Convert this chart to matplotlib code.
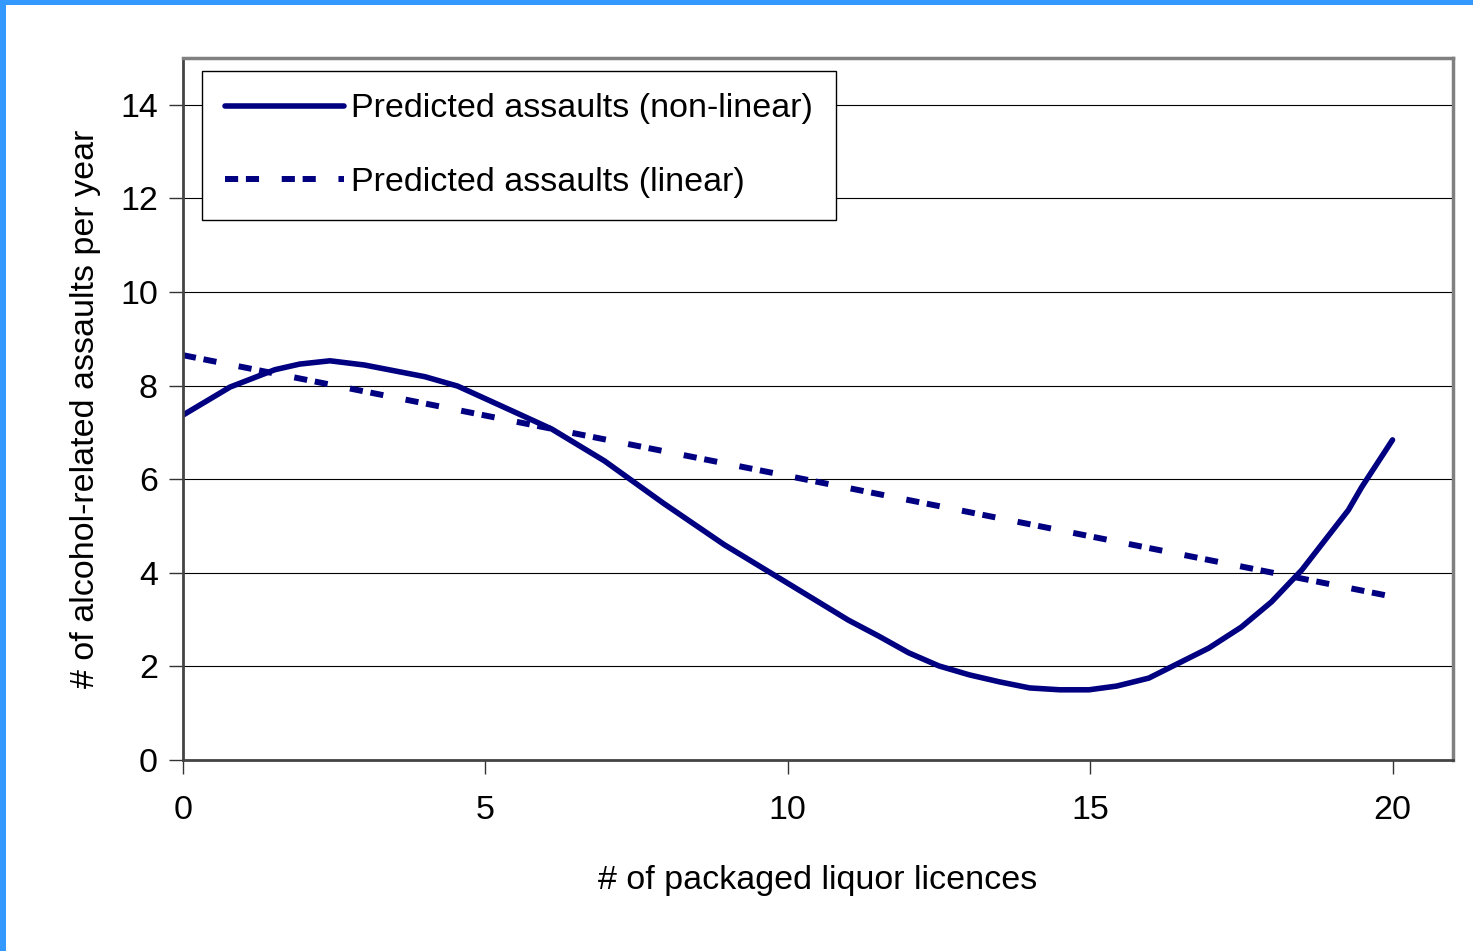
import matplotlib
matplotlib.use("Agg")
import matplotlib.pyplot as plt
from matplotlib.patches import Rectangle

plt.rcParams['font.family'] = ['Liberation Sans', 'DejaVu Sans']

# licences vs predicted assaults
licences = [0, 0.78, 1.52, 1.93, 2.43, 3.0, 4.0, 4.54, 5.0, 5.56, 6.1, 6.97, 7.94,
            8.95, 9.97, 11.0, 11.5, 12.0, 12.5, 13.0, 13.5, 14.0, 14.5, 14.98,
            15.44, 15.97, 16.96, 17.5, 18.0, 18.5, 19.27, 19.49, 20.0]
nonlinear = [7.37, 7.97, 8.34, 8.46, 8.53, 8.44, 8.19, 7.99, 7.72, 7.39, 7.07, 6.39, 5.49,
             4.60, 3.80, 2.99, 2.65, 2.29, 2.01, 1.82, 1.67, 1.54, 1.50, 1.50,
             1.58, 1.75, 2.39, 2.84, 3.38, 4.06, 5.34, 5.83, 6.84]
lin_x = [0, 5, 10, 15, 20]
linear = [8.65, 7.36, 6.07, 4.78, 3.49]

yticks = [0, 2, 4, 6, 8, 10, 12, 14]
xticks = [0, 5, 10, 15, 20]

navy = '#000080'
fs = 24.5

fig = plt.figure(figsize=(14.73, 9.51), dpi=100)
ax = fig.add_axes([183/1473, 1 - 760/951, 1270/1473, 702/951])

ax.plot(licences, nonlinear, color=navy, lw=4.0, solid_capstyle='round',
        label='Predicted assaults (non-linear)')
ax.plot(lin_x, linear, color=navy, lw=4.3, dashes=(2.2, 1.3, 2.2, 3.8),
        dash_capstyle='butt', label='Predicted assaults (linear)')

ax.set_xlim(0, 21)
ax.set_ylim(0, 15)
ax.set_xticks(xticks)
ax.set_yticks(yticks)
ax.yaxis.grid(True, color='black', lw=0.8)
ax.set_axisbelow(True)
ax.tick_params(axis='both', length=10, width=1, color='#333333', labelsize=fs, pad=8)
ax.tick_params(axis='x', pad=15)

for side in ['left', 'bottom']:
    ax.spines[side].set_color('#444444')
    ax.spines[side].set_linewidth(2)
for side in ['right', 'top']:
    ax.spines[side].set_color('#808080')
    ax.spines[side].set_linewidth(2.5)

ax.set_xlabel('# of packaged liquor licences', fontsize=fs, labelpad=28)
ax.set_ylabel('# of alcohol-related assaults per year', fontsize=fs, labelpad=14)

leg = ax.legend(loc='upper left', bbox_to_anchor=(0.015, 0.9815), fontsize=fs,
                frameon=True, fancybox=False, edgecolor='black', framealpha=1,
                handlelength=3.5, handletextpad=0.23, labelspacing=1.25,
                borderpad=0.66, borderaxespad=0)
leg.get_frame().set_linewidth(1)

# blue frame on top and left edges
fig.add_artist(Rectangle((0, 1 - 5/951), 1, 5/951, transform=fig.transFigure,
                         color='#3399ff', lw=0))
fig.add_artist(Rectangle((0, 0), 6/1473, 1, transform=fig.transFigure,
                         color='#3399ff', lw=0))

fig.savefig('out.png', dpi=100)
